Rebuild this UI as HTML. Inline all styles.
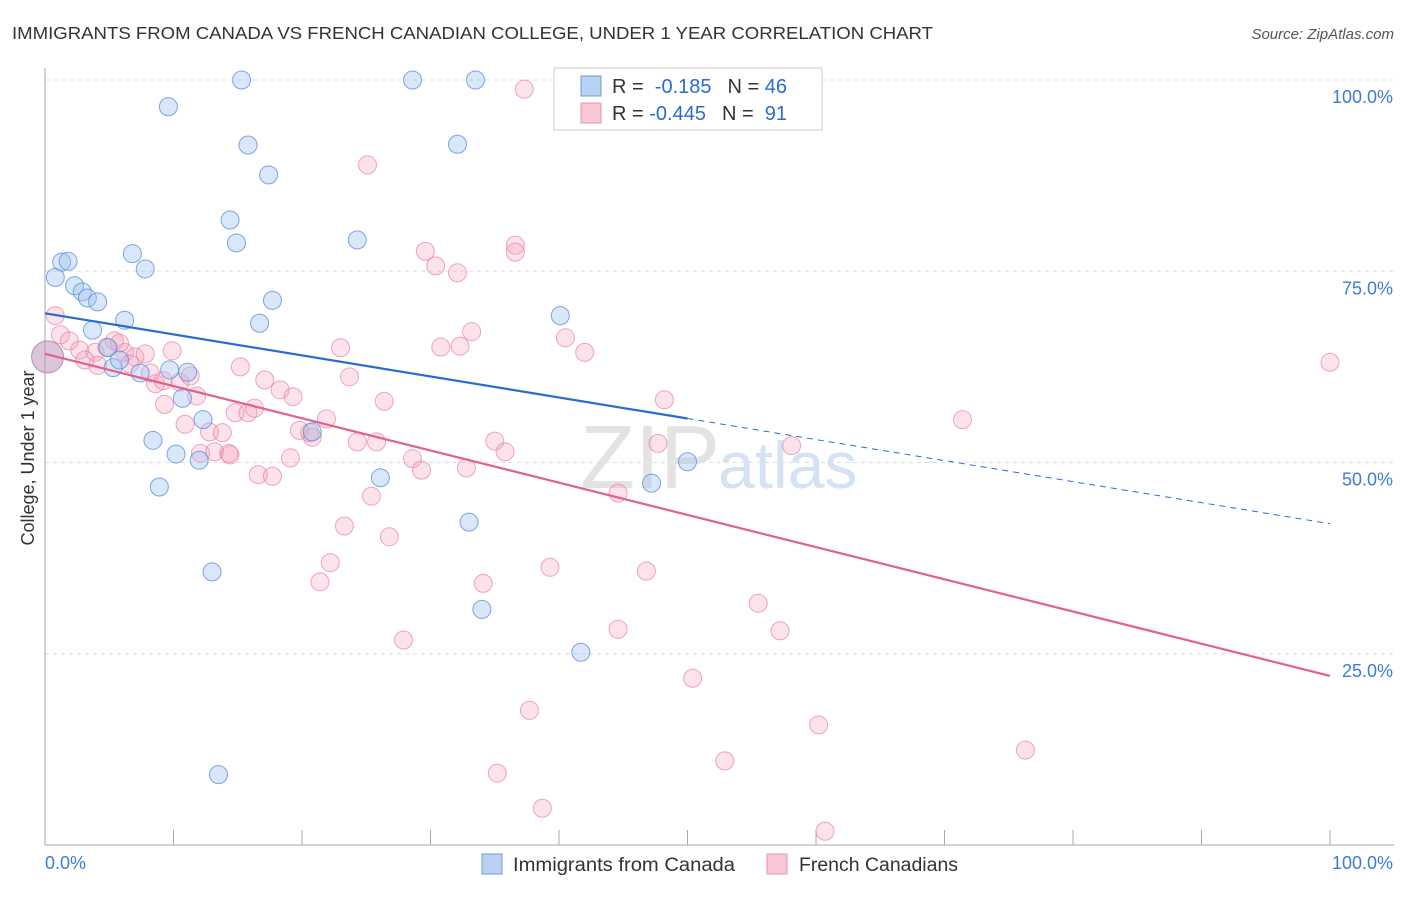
<!DOCTYPE html>
<html><head><meta charset="utf-8"><style>
body{margin:0;background:#fff;font-family:"Liberation Sans",sans-serif;}
svg text{font-family:"Liberation Sans",sans-serif;}
</style></head><body>
<svg id="chart" width="1406" height="892">
<text x="12" y="39" font-size="17.5" fill="#333" textLength="921" lengthAdjust="spacingAndGlyphs">IMMIGRANTS FROM CANADA VS FRENCH CANADIAN COLLEGE, UNDER 1 YEAR CORRELATION CHART</text>
<text x="1394" y="39" font-size="15" fill="#555" font-style="italic" text-anchor="end">Source: ZipAtlas.com</text>
<g id="grid"></g>
<text x="720" y="488" font-size="90" fill="#e3e3e3" text-anchor="end" font-family="Liberation Serif">ZIP</text>
<text x="718" y="488" font-size="66" fill="#d5e2f3">atlas</text>
<g id="pts"></g>
<g id="lines"></g>
<text transform="translate(34,458) rotate(-90)" font-size="18" fill="#333" text-anchor="middle">College, Under 1 year</text>
<g>
<rect x="554" y="68" width="268" height="62" fill="#fff" stroke="#ccc"/>
<rect x="581" y="76" width="20" height="20" fill="#b9d1f3" stroke="#6f9bd9"/>
<rect x="581" y="103" width="20" height="20" fill="#f8c6d4" stroke="#e996b1"/>
<text x="612" y="93" font-size="20" fill="#333">R = <tspan fill="#2a6bd1">&#160;-0.185</tspan><tspan dx="16">N = </tspan><tspan fill="#2a6bd1">46</tspan></text>
<text x="612" y="120" font-size="20" fill="#333">R = <tspan fill="#2a6bd1">-0.445</tspan><tspan dx="16">N = </tspan><tspan fill="#2a6bd1">&#160;91</tspan></text>
</g>
<g>
<rect x="482" y="854" width="20" height="20" fill="#b9d1f3" stroke="#6f9bd9"/>
<text x="513" y="871" font-size="19" fill="#333" textLength="222" lengthAdjust="spacingAndGlyphs">Immigrants from Canada</text>
<rect x="767" y="854" width="20" height="20" fill="#f8c6d4" stroke="#e996b1"/>
<text x="799" y="871" font-size="19" fill="#333" textLength="159" lengthAdjust="spacingAndGlyphs">French Canadians</text>
</g>
</svg>
<script>
const xTicks=[0,10,20,30,40,50,60,70,80,90,100];
const yTicks=[25,50,75,100];
const yTickLabels=["25.0%","50.0%","75.0%","100.0%"];
const blueX=[0.8,1.3,1.8,2.3,2.9,3.3,4.1,3.7,6.2,6.8,7.8,4.9,5.3,5.8,7.4,9.6,15.3,28.6,33.5,15.8,17.4,14.4,14.9,24.3,32.1,17.7,16.7,40.1,9.7,11.1,10.7,12.3,8.4,10.2,12.0,8.9,20.8,26.1,50.0,47.2,33.0,13.0,34.0,41.7,13.5,0.2];
const blueY=[74.2,76.2,76.3,73.1,72.3,71.5,71.0,67.3,68.6,77.3,75.3,65.0,62.4,63.4,61.7,96.5,100,100,100,91.5,87.6,81.7,78.7,79.1,91.6,71.2,68.2,69.2,62.1,61.8,58.4,55.6,52.9,51.1,50.3,46.8,54.0,48.0,50.1,47.3,42.2,35.7,30.8,25.2,9.2,63.8];
const pinkX=[37.3,25.1,36.6,36.6,29.6,30.4,32.1,0.8,1.2,1.9,2.7,3.9,4.8,5.4,6.2,7.0,7.8,8.6,9.3,9.9,10.5,11.3,11.8,10.9,12.8,13.8,13.2,14.3,15.2,14.8,15.8,16.3,17.1,18.3,19.3,19.1,19.8,20.8,21.9,23.0,23.7,24.3,25.8,26.4,25.4,23.3,22.2,21.4,26.8,27.9,28.6,29.3,30.8,32.3,33.2,32.8,35.0,35.8,34.1,39.3,37.7,35.2,38.7,40.5,42.0,44.6,44.6,46.8,47.7,48.2,50.4,52.9,55.5,57.2,58.1,60.2,60.7,71.4,76.3,100,16.6,17.7,12.1,9.2,6.6,4.1,3.1,8.2,20.6,14.4,5.8];
const pinkY=[98.8,88.9,78.4,77.5,77.6,75.7,74.8,69.2,66.7,65.9,64.7,64.4,65.1,65.9,64.4,63.8,64.2,60.3,57.6,64.6,60.5,61.3,58.7,55.0,54.0,53.9,51.4,51.2,62.5,56.5,56.5,57.1,60.8,59.5,58.6,50.6,54.2,53.3,55.7,65.0,61.2,52.7,52.7,58.0,45.6,41.7,36.9,34.4,40.3,26.8,50.5,49.0,65.1,65.2,67.1,49.3,52.8,51.4,34.2,36.3,17.6,9.4,4.8,66.3,64.4,46.0,28.2,35.8,52.5,58.2,21.8,11.0,31.6,28.0,52.2,15.7,1.8,55.6,12.4,63.1,48.4,48.2,51.2,60.7,62.9,62.7,63.4,61.7,53.9,51.0,65.6];
const blueTrend=[69.5,-0.275];
const pinkTrend=[64.2,-0.421];
const NS="http://www.w3.org/2000/svg";
const sx=v=>45+v*12.85, sy=v=>845-v*7.65;
function mk(tag,attrs,parent){const e=document.createElementNS(NS,tag);for(const k in attrs)e.setAttribute(k,attrs[k]);parent.appendChild(e);return e;}
const grid=document.getElementById('grid');
yTicks.forEach((t,i)=>{
 const l=mk('line',{x1:45,x2:1394,y1:sy(t),y2:sy(t),stroke:'#ddd','stroke-dasharray':'4,4'},grid);
 
 
 const tx=mk('text',{x:1393,y:sy(t)+23,'font-size':18,fill:'#3d7bd9','text-anchor':'end'},grid);
 tx.textContent=yTickLabels[i];
 
 
});
const ax=mk('line',{x1:45,x2:45,y1:68,y2:845,stroke:'#aaa'},grid);


const bx=mk('line',{x1:45,x2:1394,y1:845,y2:845,stroke:'#aaa'},grid);


xTicks.forEach(t=>{const l=mk('line',{x1:sx(t),x2:sx(t),y1:830,y2:845,stroke:'#aaa'},grid);
 
 });
const xl0=mk('text',{x:45,y:869,'font-size':18,fill:'#3d7bd9'},grid);xl0.textContent='0.0%';


const xl1=mk('text',{x:1393,y:869,'font-size':18,fill:'#3d7bd9','text-anchor':'end'},grid);xl1.textContent='100.0%';


const pts=document.getElementById('pts');
pinkX.forEach((x,i)=>{const c=mk('circle',{cx:sx(x),cy:sy(pinkY[i]),r:9,fill:'rgba(244,160,185,0.3)',stroke:'rgba(232,130,163,0.7)','stroke-width':1},pts);
 
 });
blueX.forEach((x,i)=>{const big=i===blueX.length-1;const c=mk('circle',{cx:sx(x),cy:sy(blueY[i]),r:big?16:9,fill:big?'rgba(190,150,190,0.55)':'rgba(160,195,240,0.4)',stroke:big?'rgba(170,120,170,0.8)':'rgba(90,145,220,0.8)','stroke-width':1},pts);
 
 });
const lines=document.getElementById('lines');
const f=(t,x)=>t[0]+t[1]*x;
const b1=mk('line',{x1:sx(0),y1:sy(f(blueTrend,0)),x2:sx(50),y2:sy(f(blueTrend,50)),stroke:'#2a6bd1','stroke-width':2.2},lines);


const b2=mk('line',{x1:sx(50),y1:sy(f(blueTrend,50)),x2:sx(100),y2:sy(f(blueTrend,100)),stroke:'#2a6bd1','stroke-width':1,'stroke-dasharray':'6,5'},lines);


const p1=mk('line',{x1:sx(0),y1:sy(f(pinkTrend,0)),x2:sx(100),y2:sy(f(pinkTrend,100)),stroke:'#e3608e','stroke-width':2.2},lines);


</script>
</body></html>
